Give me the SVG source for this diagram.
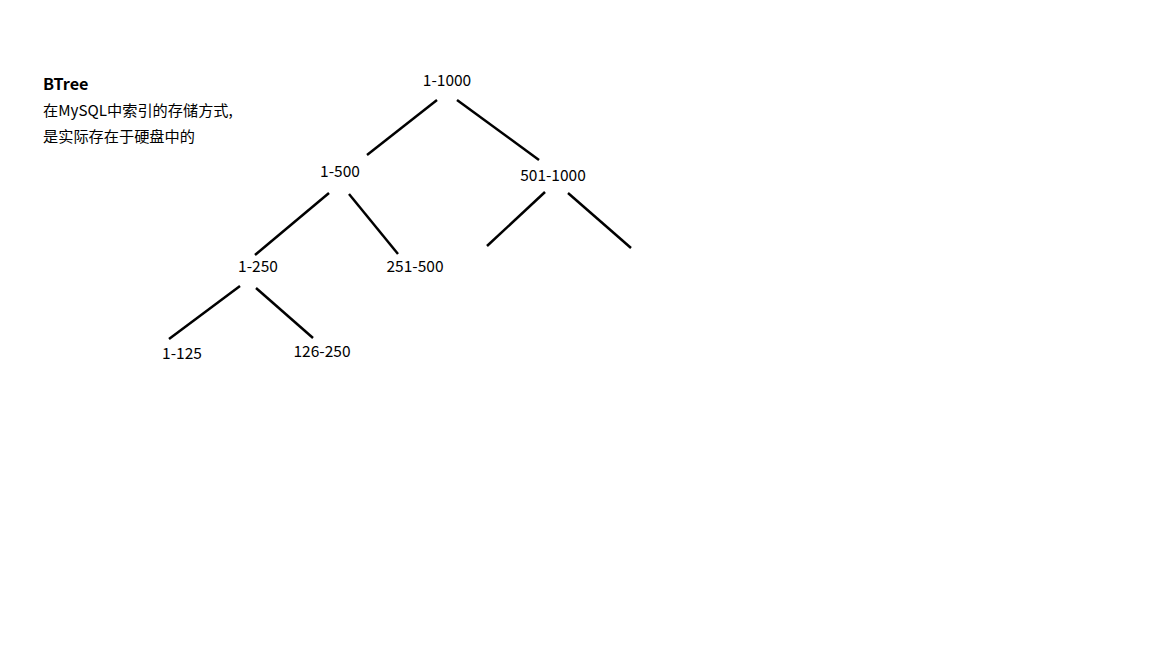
<svg xmlns="http://www.w3.org/2000/svg" width="1152" height="648" viewBox="0 0 1152 648">
<style>
text{font-family:"Noto Sans CJK SC","Noto Sans",sans-serif;font-size:15.5px;fill:#000}
.n{text-anchor:middle}
.c{font-size:15.2px}
.t{font-weight:bold;font-size:16.2px}
#edges line{stroke:#000;stroke-width:2.5;stroke-linecap:butt}
</style>
<rect width="1152" height="648" fill="#fff"/>
<g id="title">
<text class="t" x="43" y="90">BTree</text>
<text class="c" x="43" y="116">在MySQL中索引的存储方式,</text>
<text class="c" x="43" y="142">是实际存在于硬盘中的</text>
</g>
<g id="edges">
<line x1="437" y1="100" x2="367" y2="155"/>
<line x1="457" y1="100" x2="539" y2="160"/>
<line x1="329" y1="193" x2="255" y2="255"/>
<line x1="349" y1="194" x2="398" y2="254"/>
<line x1="545" y1="192" x2="487" y2="246"/>
<line x1="568" y1="193" x2="631" y2="248"/>
<line x1="240" y1="286" x2="169" y2="339"/>
<line x1="256" y1="288" x2="313" y2="338"/>
</g>
<g id="n1"><text class="n" x="447" y="86">1-1000</text></g>
<g id="n2"><text class="n" x="340" y="177">1-500</text></g>
<g id="n3"><text class="n" x="553" y="181">501-1000</text></g>
<g id="n4"><text class="n" x="258" y="272">1-250</text></g>
<g id="n5"><text class="n" x="415" y="272">251-500</text></g>
<g id="n6"><text class="n" x="182" y="359">1-125</text></g>
<g id="n7"><text class="n" x="322" y="357">126-250</text></g>
</svg>
